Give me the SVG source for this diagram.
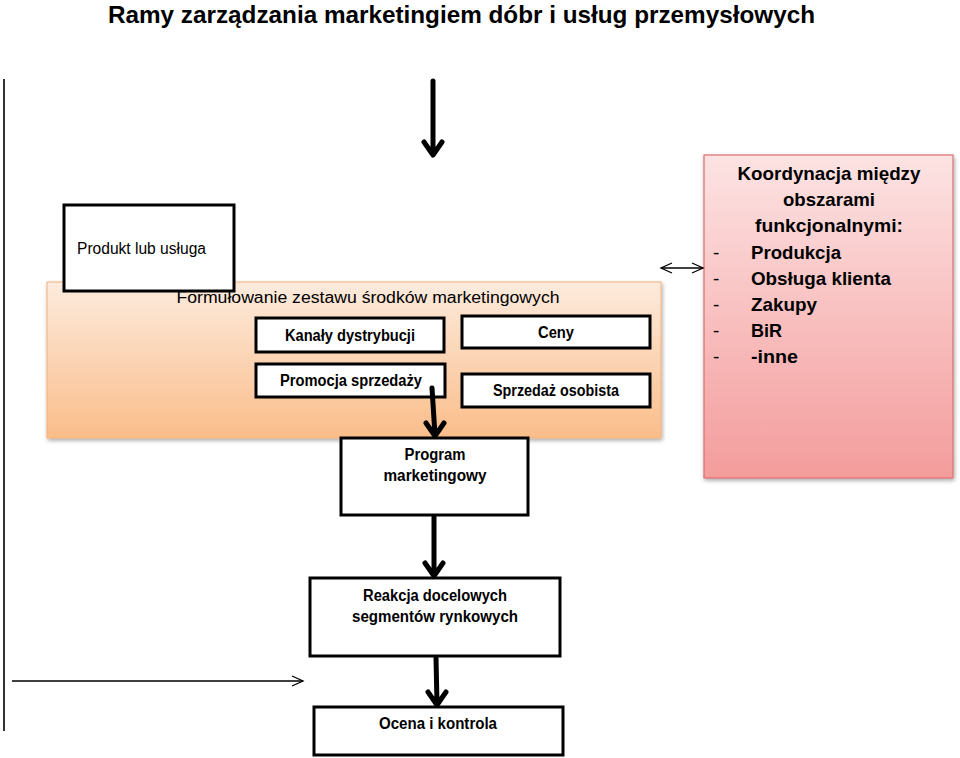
<svg xmlns="http://www.w3.org/2000/svg" width="960" height="758" viewBox="0 0 960 758">
<defs>
<linearGradient id="gOrange" x1="0" y1="0" x2="0" y2="1">
<stop offset="0" stop-color="#FDEBDD"/>
<stop offset="1" stop-color="#FABD8A"/>
</linearGradient>
<linearGradient id="gPink" x1="0" y1="0" x2="0" y2="1">
<stop offset="0" stop-color="#FDE3E3"/>
<stop offset="1" stop-color="#F49C9C"/>
</linearGradient>
<filter id="shadow" x="-5%" y="-5%" width="110%" height="110%">
<feGaussianBlur in="SourceAlpha" stdDeviation="2"/>
<feOffset dx="1" dy="2"/>
<feComponentTransfer><feFuncA type="linear" slope="0.35"/></feComponentTransfer>
<feMerge><feMergeNode/><feMergeNode in="SourceGraphic"/></feMerge>
</filter>
<marker id="thin" markerWidth="14" markerHeight="12" refX="12" refY="6" orient="auto" markerUnits="userSpaceOnUse">
<path d="M1,1 L12,6 L1,11" fill="none" stroke="#000" stroke-width="1.3"/>
</marker>
<marker id="thinStart" markerWidth="14" markerHeight="12" refX="2" refY="6" orient="auto" markerUnits="userSpaceOnUse">
<path d="M13,1 L2,6 L13,11" fill="none" stroke="#000" stroke-width="1.3"/>
</marker>
</defs>
<style>
.box{fill:#fff;stroke:#000;stroke-width:3}
.t{font-family:"Liberation Sans",Arial,sans-serif;font-size:16px;fill:#000}
.tb{font-family:"Liberation Sans",Arial,sans-serif;font-size:16px;fill:#000;font-weight:bold}
.pk{font-family:"Liberation Sans",Arial,sans-serif;font-size:19px;fill:#000;font-weight:bold}
.dash{font-family:"Liberation Sans",Arial,sans-serif;font-size:19px;fill:#000}
.thick{fill:none;stroke:#000;stroke-width:5;stroke-linecap:round;stroke-linejoin:round}
.thin{fill:none;stroke:#000;stroke-width:1.3}
</style>
<text x="108" y="23" textLength="707" lengthAdjust="spacingAndGlyphs" style="font-family:'Liberation Sans',Arial,sans-serif;font-size:24px;font-weight:bold" fill="#000">Ramy zarządzania marketingiem dóbr i usług przemysłowych</text>

<g id="panel">
<rect x="47" y="282" width="614" height="156" fill="url(#gOrange)" stroke="#F3B07A" stroke-width="1" filter="url(#shadow)"/>
<text class="t" x="368" y="303" text-anchor="middle" textLength="383" lengthAdjust="spacingAndGlyphs">Formułowanie zestawu środków marketingowych</text>
</g>

<g id="produkt">
<rect class="box" x="64" y="205" width="170" height="86"/>
<text class="t" x="77" y="254" textLength="129" lengthAdjust="spacingAndGlyphs">Produkt lub usługa</text>
</g>

<g id="kanaly">
<rect class="box" x="256" y="318" width="188" height="34"/>
<text class="tb" x="350" y="341" text-anchor="middle" textLength="130" lengthAdjust="spacingAndGlyphs">Kanały dystrybucji</text>
</g>
<g id="ceny">
<rect class="box" x="462" y="316" width="188" height="32"/>
<text class="tb" x="556" y="338" text-anchor="middle" textLength="36" lengthAdjust="spacingAndGlyphs">Ceny</text>
</g>
<g id="promocja">
<rect class="box" x="256" y="364" width="189" height="33"/>
<text class="tb" x="351" y="386" text-anchor="middle" textLength="142" lengthAdjust="spacingAndGlyphs">Promocja sprzedaży</text>
</g>
<g id="sprzedaz">
<rect class="box" x="462" y="374" width="188" height="33"/>
<text class="tb" x="556" y="396" text-anchor="middle" textLength="126" lengthAdjust="spacingAndGlyphs">Sprzedaż osobista</text>
</g>

<g id="program">
<rect class="box" x="341" y="438" width="187" height="77"/>
<text class="tb" x="435" y="460" text-anchor="middle" textLength="61" lengthAdjust="spacingAndGlyphs">Program</text>
<text class="tb" x="435" y="481" text-anchor="middle" textLength="103" lengthAdjust="spacingAndGlyphs">marketingowy</text>
</g>

<g id="reakcja">
<rect class="box" x="310" y="578" width="250" height="78"/>
<text class="tb" x="435" y="601" text-anchor="middle" textLength="144" lengthAdjust="spacingAndGlyphs">Reakcja docelowych</text>
<text class="tb" x="435" y="622" text-anchor="middle" textLength="166" lengthAdjust="spacingAndGlyphs">segmentów rynkowych</text>
</g>

<g id="ocena">
<rect class="box" x="314" y="707" width="249" height="48"/>
<text class="tb" x="438" y="729" text-anchor="middle" textLength="118" lengthAdjust="spacingAndGlyphs">Ocena i kontrola</text>
</g>

<g id="koordynacja">
<rect x="704" y="155" width="249" height="323" fill="url(#gPink)" stroke="#D9706F" stroke-width="1.2" filter="url(#shadow)"/>
<text class="pk" x="829" y="180" text-anchor="middle" textLength="183" lengthAdjust="spacingAndGlyphs">Koordynacja między</text>
<text class="pk" x="829" y="206" text-anchor="middle" textLength="92" lengthAdjust="spacingAndGlyphs">obszarami</text>
<text class="pk" x="829" y="232" text-anchor="middle" textLength="148" lengthAdjust="spacingAndGlyphs">funkcjonalnymi:</text>
<text class="dash" x="713" y="259">-</text><text class="pk" x="751" y="259" textLength="90" lengthAdjust="spacingAndGlyphs">Produkcja</text>
<text class="dash" x="713" y="285">-</text><text class="pk" x="751" y="285" textLength="140" lengthAdjust="spacingAndGlyphs">Obsługa klienta</text>
<text class="dash" x="713" y="311">-</text><text class="pk" x="751" y="311" textLength="66" lengthAdjust="spacingAndGlyphs">Zakupy</text>
<text class="dash" x="713" y="337">-</text><text class="pk" x="751" y="337" textLength="31" lengthAdjust="spacingAndGlyphs">BiR</text>
<text class="dash" x="713" y="363">-</text><text class="pk" x="751" y="363" textLength="47" lengthAdjust="spacingAndGlyphs">-inne</text>
</g>

<g id="connectors">
<line x1="4" y1="79" x2="4" y2="731" stroke="#333" stroke-width="2"/>
<path class="thick" d="M433,81 L433,154 M424,142 L433,155 L442,142"/>
<path class="thick" d="M432,388 L435,435 M426,423 L435,436 L444,423"/>
<path class="thick" d="M434,517 L434,575 M425,563 L434,576 L443,563"/>
<path class="thick" d="M436,658 L437,704 M428,692 L437,705 L446,692"/>
<line class="thin" x1="12" y1="681" x2="303" y2="681" marker-end="url(#thin)"/>
<line class="thin" x1="661" y1="268" x2="703" y2="268" marker-start="url(#thinStart)" marker-end="url(#thin)"/>
</g>
</svg>
